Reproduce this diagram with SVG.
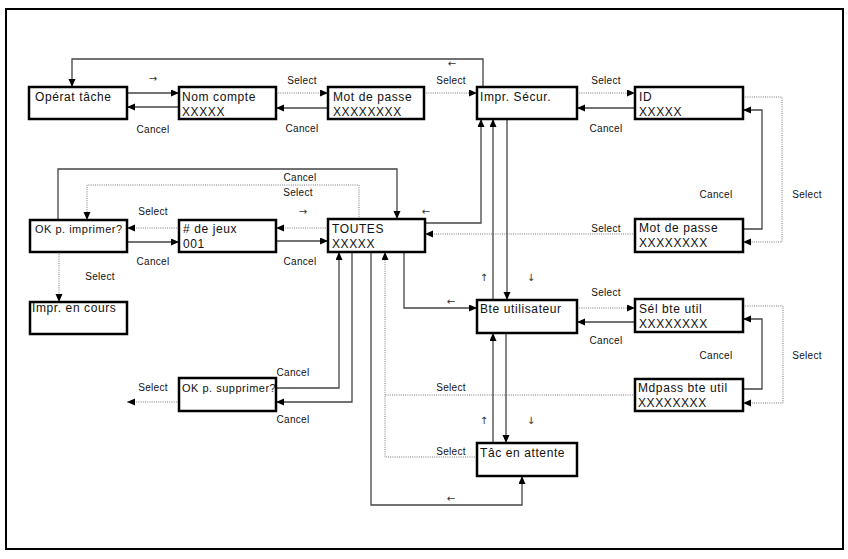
<svg xmlns="http://www.w3.org/2000/svg" width="848" height="559" viewBox="0 0 848 559">
<style>
.box{fill:#fff;stroke:#000;stroke-width:2.5}
.t{font-family:"Liberation Sans",Arial,sans-serif;font-size:12px;letter-spacing:0.6px;fill:#111}
.ts{font-family:"Liberation Sans",Arial,sans-serif;font-size:11px;letter-spacing:0.5px;fill:#111}
.l{font-family:"Liberation Sans",Arial,sans-serif;font-size:10px;letter-spacing:0.3px;fill:#111;text-anchor:middle}
.ar{font-family:"DejaVu Sans",sans-serif;font-size:10px;fill:#333;text-anchor:middle}
.s{fill:none;stroke:#444;stroke-width:1.3}
.d{fill:none;stroke:#777;stroke-width:1;stroke-dasharray:1 1.2}
</style>
<defs>
<marker id="a" markerUnits="userSpaceOnUse" markerWidth="9" markerHeight="8" refX="8" refY="3.5" orient="auto">
<path d="M0,0 L8,3.5 L0,7 z" fill="#000"/>
</marker>
</defs>
<rect x="6" y="9" width="837" height="540" fill="#fff" stroke="#000" stroke-width="2"/>
<g id="connectors">
<path class="s" d="M483,87 V59 H72 V87" marker-end="url(#a)"/>
<path class="s" d="M127,93 H179" marker-end="url(#a)"/>
<path class="s" d="M179,107 H127" marker-end="url(#a)"/>
<path class="d" d="M276,93 H328" marker-end="url(#a)"/>
<path class="s" d="M328,108 H276" marker-end="url(#a)"/>
<path class="d" d="M424,93 H477" marker-end="url(#a)"/>
<path class="d" d="M577,93 H635" marker-end="url(#a)"/>
<path class="s" d="M635,108 H577" marker-end="url(#a)"/>
<path class="d" d="M743,97 H782 V242 H743" marker-end="url(#a)"/>
<path class="s" d="M743,229 H762 V110 H743" marker-end="url(#a)"/>
<path class="d" d="M635,234 H425" marker-end="url(#a)"/>
<path class="s" d="M425,223 H481 V119" marker-end="url(#a)"/>
<path class="s" d="M493,300 V119" marker-end="url(#a)"/>
<path class="s" d="M507,119 V300" marker-end="url(#a)"/>
<path class="s" d="M404,252 V308 H477" marker-end="url(#a)"/>
<path class="d" d="M179,228 H127" marker-end="url(#a)"/>
<path class="s" d="M127,242 H179" marker-end="url(#a)"/>
<path class="d" d="M328,228 H276" marker-end="url(#a)"/>
<path class="s" d="M276,241 H328" marker-end="url(#a)"/>
<path class="s" d="M58,220 V169 H397 V219" marker-end="url(#a)"/>
<path class="d" d="M359,219 V185 H87 V220" marker-end="url(#a)"/>
<path class="d" d="M59,252 V302" marker-end="url(#a)"/>
<path class="s" d="M276,388 H339 V252" marker-end="url(#a)"/>
<path class="s" d="M352,252 V402 H276" marker-end="url(#a)"/>
<path class="d" d="M179,402 H127" marker-end="url(#a)"/>
<path class="s" d="M371,252 V505 H522 V476" marker-end="url(#a)"/>
<path class="d" d="M477,457 H385 V252" marker-end="url(#a)"/>
<path class="d" d="M635,395 H385"/>
<path class="s" d="M493,443 V333" marker-end="url(#a)"/>
<path class="s" d="M506,333 V443" marker-end="url(#a)"/>
<path class="d" d="M577,308 H635" marker-end="url(#a)"/>
<path class="s" d="M635,322 H577" marker-end="url(#a)"/>
<path class="d" d="M743,306 H783 V403 H743" marker-end="url(#a)"/>
<path class="s" d="M743,389 H762 V319 H743" marker-end="url(#a)"/>
</g>
<g id="labels">
<text class="ar" x="153" y="82">→</text>
<text class="l" x="153" y="133">Cancel</text>
<text class="l" x="302" y="84">Select</text>
<text class="l" x="302" y="132">Cancel</text>
<text class="l" x="451" y="84">Select</text>
<text class="ar" x="452" y="67">←</text>
<text class="l" x="606" y="84">Select</text>
<text class="l" x="606" y="132">Cancel</text>
<text class="l" x="716" y="198">Cancel</text>
<text class="l" x="807" y="198">Select</text>
<text class="l" x="606" y="232">Select</text>
<text class="ar" x="426" y="215">←</text>
<text class="ar" x="484" y="281">↑</text>
<text class="ar" x="531" y="281">↓</text>
<text class="ar" x="451" y="305">←</text>
<text class="l" x="300" y="181">Cancel</text>
<text class="l" x="298" y="196">Select</text>
<text class="ar" x="303" y="215">→</text>
<text class="l" x="153" y="215">Select</text>
<text class="l" x="153" y="265">Cancel</text>
<text class="l" x="300" y="265">Cancel</text>
<text class="l" x="100" y="280">Select</text>
<text class="l" x="606" y="296">Select</text>
<text class="l" x="606" y="344">Cancel</text>
<text class="l" x="716" y="359">Cancel</text>
<text class="l" x="807" y="359">Select</text>
<text class="l" x="293" y="376">Cancel</text>
<text class="l" x="293" y="423">Cancel</text>
<text class="l" x="153" y="391">Select</text>
<text class="l" x="451" y="391">Select</text>
<text class="ar" x="484" y="424">↑</text>
<text class="ar" x="531" y="424">↓</text>
<text class="l" x="451" y="455">Select</text>
<text class="ar" x="451" y="502">←</text>
</g>
<g id="n-operat"><rect class="box" x="29" y="87" width="98" height="32"/><text class="t" x="35" y="101">Opérat tâche</text></g>
<g id="n-nomcompte"><rect class="box" x="179" y="87" width="97" height="32"/><text class="t" x="182" y="101">Nom compte</text><text class="t" x="182" y="116">XXXXX</text></g>
<g id="n-motdepasse1"><rect class="box" x="328" y="87" width="96" height="32"/><text class="t" x="333" y="101">Mot de passe</text><text class="t" x="333" y="116">XXXXXXXX</text></g>
<g id="n-imprsecur"><rect class="box" x="477" y="87" width="100" height="32"/><text class="t" x="480" y="101">Impr. Sécur.</text></g>
<g id="n-id"><rect class="box" x="635" y="87" width="108" height="32"/><text class="t" x="639" y="101">ID</text><text class="t" x="639" y="116">XXXXX</text></g>
<g id="n-okimprimer"><rect class="box" x="30" y="220" width="97" height="32"/><text class="ts" x="35" y="233">OK p. imprimer?</text></g>
<g id="n-dejeux"><rect class="box" x="179" y="220" width="97" height="32"/><text class="t" x="183" y="233">#  de jeux</text><text class="t" x="183" y="248">001</text></g>
<g id="n-toutes"><rect class="box" x="328" y="219" width="97" height="33"/><text class="t" x="332" y="233">TOUTES</text><text class="t" x="332" y="248">XXXXX</text></g>
<g id="n-motdepasse2"><rect class="box" x="635" y="219" width="108" height="33"/><text class="t" x="639" y="232">Mot de passe</text><text class="t" x="639" y="247">XXXXXXXX</text></g>
<g id="n-imprencours"><rect class="box" x="30" y="302" width="97" height="32"/><text class="t" x="32" y="312">Impr. en cours</text></g>
<g id="n-bteutil"><rect class="box" x="477" y="300" width="100" height="33"/><text class="t" x="480" y="313">Bte utilisateur</text></g>
<g id="n-selbteutil"><rect class="box" x="635" y="299" width="108" height="33"/><text class="t" x="639" y="313">Sél bte util</text><text class="t" x="639" y="328">XXXXXXXX</text></g>
<g id="n-oksupprimer"><rect class="box" x="179" y="378" width="97" height="33"/><text class="ts" x="182" y="392">OK p. supprimer?</text></g>
<g id="n-mdpass"><rect class="box" x="635" y="379" width="108" height="32"/><text class="t" x="638" y="392">Mdpass bte util</text><text class="t" x="638" y="407">XXXXXXXX</text></g>
<g id="n-tacattente"><rect class="box" x="477" y="443" width="100" height="33"/><text class="t" x="480" y="457">Tâc en attente</text></g>
</svg>
